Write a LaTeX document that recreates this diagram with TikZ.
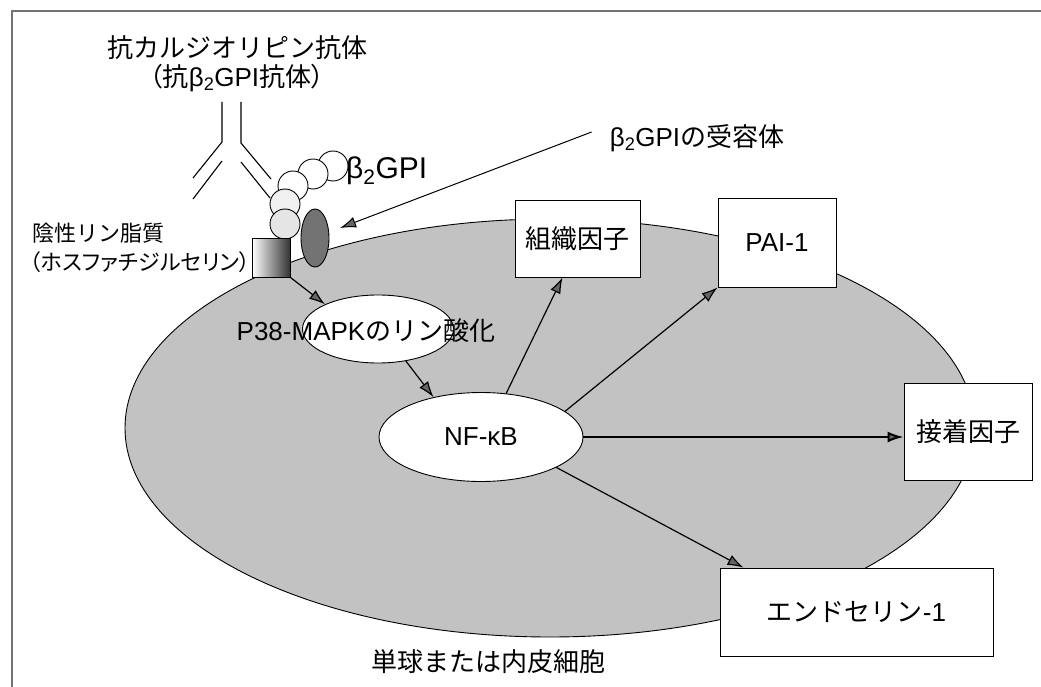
\documentclass[tikz,border=0pt]{standalone}
\usepackage{fontspec}
\setmainfont{Liberation Sans}
\newfontfamily\jp{Noto Sans CJK JP}
\newfontfamily\jpp{Noto Sans CJK JP}[RawFeature=+palt]
\usetikzlibrary{arrows.meta,shapes.geometric,calc}
\begin{document}
\begin{tikzpicture}[x=1pt,y=-1pt,
  lbl/.style={inner sep=0pt, font=\fontsize{26}{30}\selectfont},
  smalllbl/.style={inner sep=0pt, font=\fontsize{22}{26}\selectfont, anchor=west},
  outcome/.style={draw, fill=white, line width=0.9pt, inner sep=0pt,
    font=\fontsize{26}{30}\selectfont},
  blob/.style={ellipse, draw, line width=0.9pt, inner sep=0pt},
  bead/.style={circle, draw, line width=0.9pt, minimum size=30pt, inner sep=0pt},
  ab/.style={line width=1.1pt},
  arr/.style={line width=1.2pt, -{Latex[length=16pt,width=11pt,fill=black!60]}},
  framestyle/.style={black!55, line width=1.5pt}]
\useasboundingbox (0,0) rectangle (1041,687);
\fill[white] (0,0) rectangle (1041,687);

% frame
\draw[framestyle] (1041,11) -- (12,11) -- (12,687);

% the cell
\node[blob, fill=black!24, minimum width=850pt, minimum height=418pt] (cell) at (550,428) {};
\node[lbl] (cellname) at (488,662) {\jp 単球または内皮細胞};

% antibody
\node[lbl] (title1) at (237,48) {\jp 抗カルジオリピン抗体};
\node[lbl] (title2) at (237,78) {{\jpp （抗}β\textsubscript{2}GPI{\jpp 抗体）}};
\draw[ab] (222,102) -- (222,142) -- (193,178);
\draw[ab] (222,161) -- (193,199);
\draw[ab] (241,102) -- (241,143) -- (271,179);
\draw[ab] (241,162) -- (270,198);

% beta2-GPI chain
\node[bead, fill=white] (g5) at (333,166) {};
\node[bead, fill=white] (g4) at (313,174) {};
\node[bead, fill=white] (g3) at (293,186) {};
\node[bead, fill=black!6] (g2) at (285,204) {};
\node[bead, fill=black!10] (g1) at (285,224) {};
\node[lbl, font=\fontsize{30}{34}\selectfont, anchor=west] (blab) at (346,171) {β\textsubscript{2}GPI};

% membrane phospholipid and receptor
\node[draw, line width=0.9pt, minimum width=38pt, minimum height=39pt, inner sep=0pt,
  left color=white, right color=black!80] (mem) at (271,257.5) {};
\node[blob, fill=black!55, minimum width=28pt, minimum height=58pt] (rec) at (315,238) {};
\node[smalllbl] (pl1) at (32,233) {\jp 陰性リン脂質};
\node[smalllbl] (pl2) at (30,262) {\jpp （ホスファチジルセリン）};

\node[lbl] (rlab) at (697,138) {β\textsubscript{2}GPI{\jp の受容体}};
\coordinate (rtip) at (340,228);
\draw[arr, line width=1pt] ([shift={(-18pt,6pt)}]rlab.west) -- (rtip);

% signalling
\node[blob, fill=white, minimum width=151pt, minimum height=68pt] (p38) at (378,329) {};
\node[lbl] (p38txt) at (366,331) {P38-MAPK{\jp のリン酸化}};
\node[blob, fill=white, minimum width=204pt, minimum height=89pt,
  font=\fontsize{26}{30}\selectfont] (nfkb) at (481,437) {NF-κB};

% products
\node[outcome, minimum width=125pt, minimum height=77pt] (tf) at (577.5,238.5) {\jp 組織因子};
\node[outcome, minimum width=118pt, minimum height=89pt] (pai) at (777,242.5) {PAI-1};
\node[outcome, minimum width=128pt, minimum height=97pt] (adh) at (968,431.5) {\jp 接着因子};
\node[outcome, minimum width=273pt, minimum height=88pt] (endo) at (856.5,612) {{\jp エンドセリン}-1};

% arrows
\draw[arr] (mem.south east) -- (p38.155);
\draw[arr] (p38.-49) -- (nfkb.140);
\draw[arr] (nfkb.60) -- ([xshift=-15pt]tf.south);
\draw[arr] (nfkb.17) -- (pai.south west);
\draw[arr, line width=2pt] (nfkb.east) -- (nfkb.east -| adh.west);
\draw[arr] (nfkb.-22) -- ([xshift=-113pt]endo.north);
\end{tikzpicture}
\end{document}
